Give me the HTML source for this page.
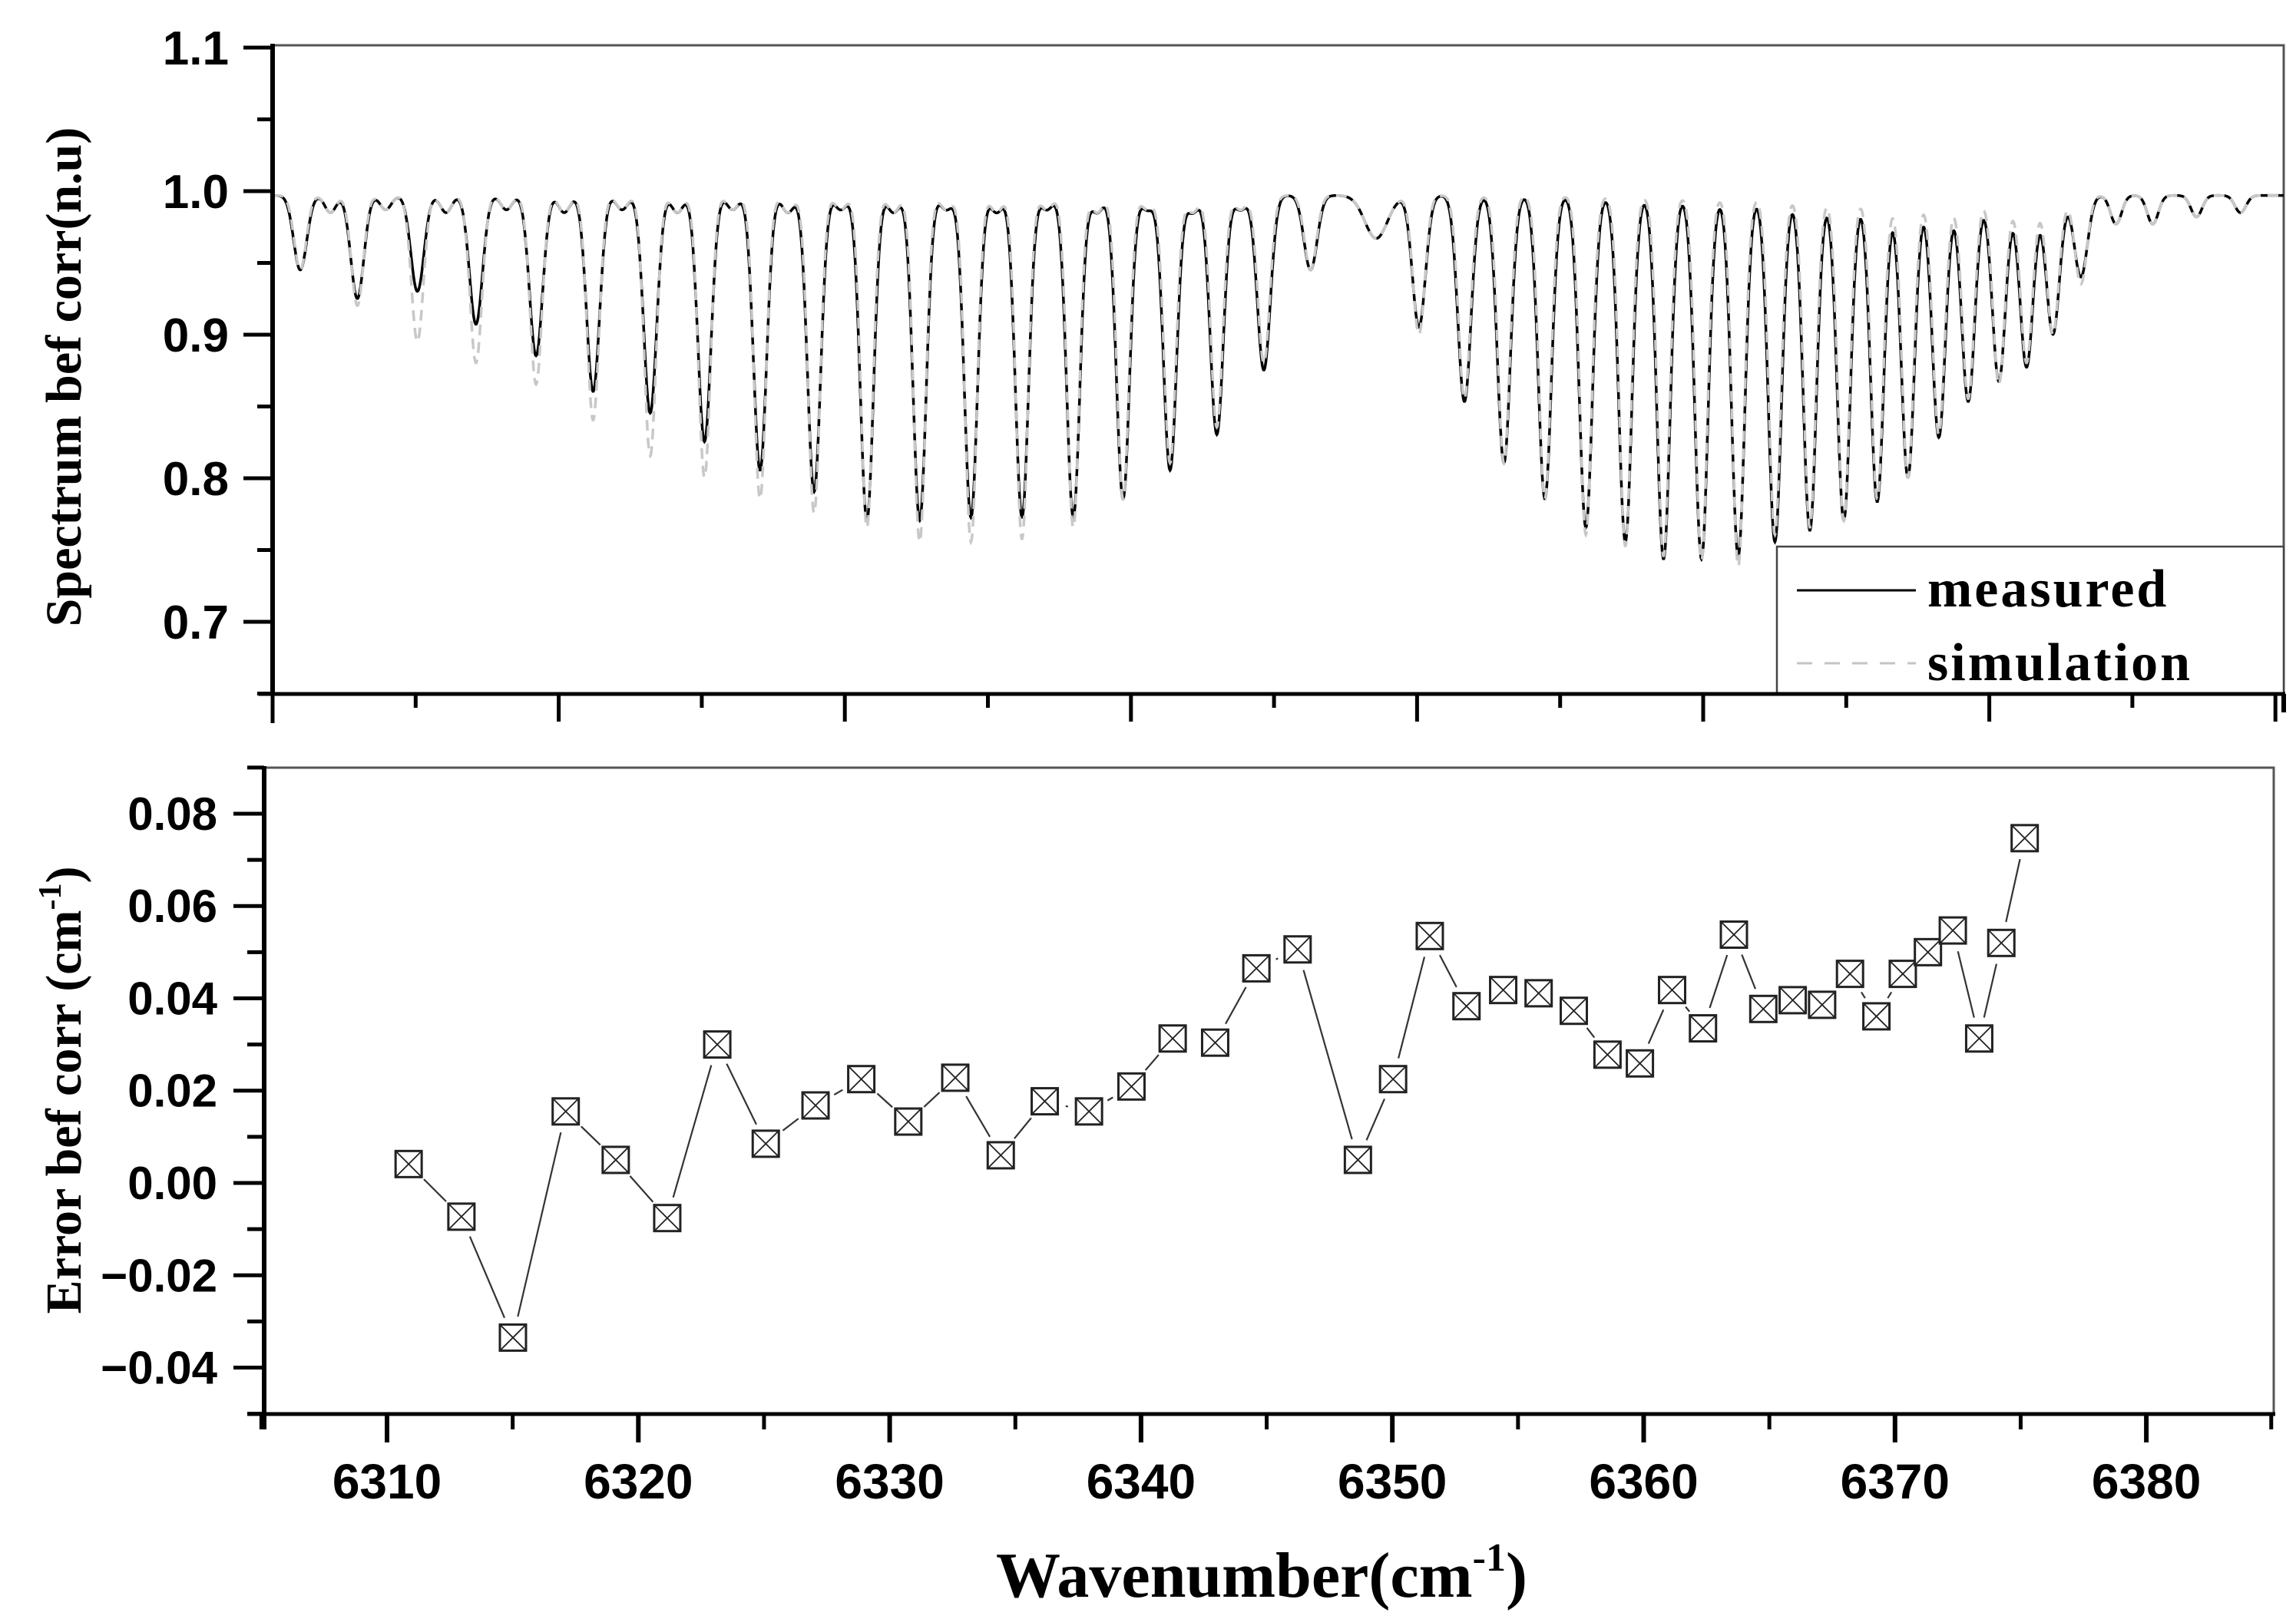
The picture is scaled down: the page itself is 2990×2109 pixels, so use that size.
<!DOCTYPE html>
<html><head><meta charset="utf-8">
<style>
html,body{margin:0;padding:0;background:#fff;}
svg{display:block;}
.tl{font-family:"Liberation Sans",Arial,sans-serif;font-weight:bold;fill:#000;}
.ti{font-family:"Liberation Serif","Times New Roman",serif;font-weight:bold;fill:#000;}
</style></head>
<body>
<svg id="chart" xmlns="http://www.w3.org/2000/svg" width="2990" height="2109" viewBox="0 0 2990 2109">
<rect x="0" y="0" width="2990" height="2109" fill="#fff"/>
<g id="topPanel"></g>
<g id="botPanel"></g>
<text class="ti" transform="translate(105,491) rotate(-90)" text-anchor="middle" font-size="66">Spectrum bef corr(n.u)</text>
<text class="ti" transform="translate(105,1420) rotate(-90)" text-anchor="middle" font-size="66">Error bef corr (cm<tspan dy="-26" font-size="42">-1</tspan><tspan dy="26">)</tspan></text>
<text class="ti" x="1643" y="2080" text-anchor="middle" font-size="84">Wavenumber(cm<tspan dy="-34" font-size="52">-1</tspan><tspan dy="34">)</tspan></text>
</svg>
<script>
// ---- spectrum line data ----
const lineCenters = [6306.10,6308.37,6310.76,6313.09,6315.48,6317.75,6320.02,6322.18,6324.39,6326.54,6328.64,6330.74,6332.78,6334.81,6336.85,6338.83,6340.70,6342.56,6344.43,6346.29,6350.60,6352.41,6353.98,6355.61,6357.24,6358.81,6360.33,6361.84,6363.30,6364.76,6366.15,6367.50,6368.83,6370.05,6371.28,6372.45,6373.67,6374.77,6375.82,6376.93];
const measuredMin = [0.945,0.925,0.93,0.907,0.885,0.86,0.845,0.825,0.805,0.79,0.77,0.77,0.772,0.772,0.772,0.785,0.805,0.83,0.875,0.945,0.905,0.853,0.81,0.785,0.765,0.755,0.743,0.743,0.745,0.755,0.763,0.77,0.783,0.80,0.828,0.853,0.867,0.877,0.90,0.94];
const simulatedMin = [0.945,0.92,0.895,0.88,0.865,0.84,0.815,0.80,0.785,0.775,0.765,0.755,0.755,0.757,0.765,0.785,0.81,0.835,0.88,0.945,0.90,0.855,0.81,0.785,0.76,0.752,0.745,0.742,0.738,0.76,0.765,0.77,0.785,0.80,0.83,0.855,0.865,0.88,0.90,0.935];
const weakCenters = [6307.3,6309.5,6311.9,6314.3,6316.6,6318.9,6321.1,6323.3,6325.5,6327.6,6329.7,6331.8,6333.8,6335.8,6337.8,6339.8,6341.6,6343.5,6348.9,6378.33,6379.79,6381.53,6383.28];
const weakDepth = [0.012,0.01,0.012,0.01,0.012,0.01,0.012,0.01,0.012,0.01,0.012,0.01,0.012,0.01,0.012,0.01,0.012,0.01,0.03,0.02,0.02,0.015,0.012];
const spectrumTicks = ["1.1","1.0","0.9","0.8","0.7"];
const spectrumTickVals = [1.1,1.0,0.9,0.8,0.7];
// ---- error data ----
const errWavenumbers = [6310.86,6312.96,6315.01,6317.11,6319.10,6321.15,6323.14,6325.07,6327.05,6328.87,6330.74,6332.61,6334.42,6336.17,6337.93,6339.62,6341.26,6342.95,6344.59,6346.23,6348.63,6350.03,6351.49,6352.95,6354.41,6355.82,6357.22,6358.56,6359.85,6361.13,6362.36,6363.59,6364.76,6365.93,6367.10,6368.21,6369.26,6370.31,6371.31,6372.30,6373.35,6374.23,6375.16];
const errValues = [0.0041,-0.0073,-0.0335,0.0155,0.005,-0.0076,0.030,0.0085,0.0168,0.0225,0.0133,0.0228,0.006,0.0177,0.0155,0.0209,0.0313,0.0304,0.0465,0.0506,0.005,0.0225,0.0535,0.0383,0.0418,0.0411,0.0373,0.0278,0.0259,0.0418,0.0335,0.0538,0.0377,0.0396,0.0386,0.0453,0.0361,0.0453,0.050,0.0547,0.0313,0.052,0.0747];
const errTickLabels = ["0.08","0.06","0.04","0.02","0.00","\u22120.02","\u22120.04"];
const errTickVals = [0.08,0.06,0.04,0.02,0.00,-0.02,-0.04];
const xTickLabels = ["6310","6320","6330","6340","6350","6360","6370","6380"];
const xTickVals = [6310,6320,6330,6340,6350,6360,6370,6380];

const NS="http://www.w3.org/2000/svg";
function mk(parent,tag,attrs){const e=document.createElementNS(NS,tag);for(const k in attrs)e.setAttribute(k,attrs[k]);parent.appendChild(e);return e;}

// top axes
const tx=v=>355+(v-6305)*(2974-355)/80;
const ty=v=>249+(1.0-v)*1870;
const topG=document.getElementById('topPanel');
let f=mk(topG,'path',{d:'M355,59 H2974 V904',fill:'none',stroke:'#555','stroke-width':3});


function profile(mins,sig){
  const pts=[];
  for(let v=6305;v<=6385.001;v+=0.02){
    let s=0.997;
    for(let i=0;i<lineCenters.length;i++){const d=(v-lineCenters[i])/sig;s*=1-(0.997-mins[i])*Math.exp(-0.5*d*d);}
    for(let i=0;i<weakCenters.length;i++){const w=weakCenters[i]===6348.9?0.45:0.22;const d=(v-weakCenters[i])/w;s*=1-weakDepth[i]*Math.exp(-0.5*d*d);}
    pts.push(tx(v).toFixed(1)+','+ty(s).toFixed(1));
  }
  return 'M'+pts.join('L');
}
const meas=mk(topG,'path',{d:profile(measuredMin,0.26),fill:'none',stroke:'#000','stroke-width':3.5});


const sim=mk(topG,'path',{d:profile(simulatedMin,0.24),fill:'none',stroke:'#c8c8c8','stroke-width':3.5,'stroke-dasharray':'14,9'});


// legend
const lg=mk(topG,'g',{});


mk(lg,'rect',{x:2314,y:712,width:660,height:192,fill:'#fff',stroke:'#444','stroke-width':2.5});
mk(lg,'line',{x1:2340,y1:769,x2:2495,y2:769,stroke:'#000','stroke-width':3});
mk(lg,'line',{x1:2340,y1:864,x2:2495,y2:864,stroke:'#c4c4c4','stroke-width':3,'stroke-dasharray':'20,16'});
let t1=mk(lg,'text',{x:2510,y:790,class:'ti','font-size':70,'letter-spacing':3});t1.textContent='measured';


let t2=mk(lg,'text',{x:2510,y:886,class:'ti','font-size':70,'letter-spacing':3});t2.textContent='simulation';


// axes
mk(topG,'line',{x1:355,y1:57,x2:355,y2:906,stroke:'#000','stroke-width':6});
mk(topG,'line',{x1:337,y1:904,x2:2976,y2:904,stroke:'#000','stroke-width':5});
for(let i=0;i<spectrumTickVals.length;i++){
  const y=ty(spectrumTickVals[i]);
  mk(topG,'line',{x1:317,y1:y,x2:355,y2:y,stroke:'#000','stroke-width':5});
  const t=mk(topG,'text',{x:298,y:y+22,class:'tl','font-size':62,'text-anchor':'end'});t.textContent=spectrumTicks[i];
  
  
  const ym=ty(spectrumTickVals[i]-0.05);mk(topG,'line',{x1:335,y1:ym,x2:355,y2:ym,stroke:'#000','stroke-width':5});
}
for(let i=0;i<=14;i++){
  const x=355+i*186.3;
  mk(topG,'line',{x1:x,y1:904,x2:x,y2:(i%2===0&&i>0)?940:(i===0?942:922),stroke:'#000','stroke-width':5});
}
mk(topG,'line',{x1:2974,y1:904,x2:2974,y2:928,stroke:'#000','stroke-width':6});

// bottom axes
const bx=v=>504+(v-6310)*32.73;
const by=v=>1541-v*6013;
const botG=document.getElementById('botPanel');
let bf=mk(botG,'path',{d:'M344,1000 H2961 V1842',fill:'none',stroke:'#555','stroke-width':3});


mk(botG,'line',{x1:344,y1:998,x2:344,y2:1844,stroke:'#000','stroke-width':6});
mk(botG,'line',{x1:322,y1:1842,x2:2963,y2:1842,stroke:'#000','stroke-width':5});
for(let i=0;i<errTickVals.length;i++){
  const y=by(errTickVals[i]);
  mk(botG,'line',{x1:304,y1:y,x2:344,y2:y,stroke:'#000','stroke-width':5});
  const t=mk(botG,'text',{x:283,y:y+21,class:'tl','font-size':60,'text-anchor':'end'});t.textContent=errTickLabels[i];
  
  
}
for(let k=0;k<8;k++){const y=by(-0.05+k*0.02);mk(botG,'line',{x1:322,y1:y,x2:344,y2:y,stroke:'#000','stroke-width':5});}
for(let i=0;i<xTickVals.length;i++){
  const x=bx(xTickVals[i]);
  mk(botG,'line',{x1:x,y1:1842,x2:x,y2:1879,stroke:'#000','stroke-width':6});
  const t=mk(botG,'text',{x:x,y:1952,class:'tl','font-size':64,'text-anchor':'middle'});t.textContent=xTickLabels[i];
  
  
  const xm=bx(xTickVals[i]-5);mk(botG,'line',{x1:xm,y1:1842,x2:xm,y2:1862,stroke:'#000','stroke-width':5});
}
{const xm=bx(6385);mk(botG,'line',{x1:xm-1,y1:1842,x2:xm-1,y2:1862,stroke:'#000','stroke-width':5});}
mk(botG,'line',{x1:344,y1:1842,x2:344,y2:1862,stroke:'#000','stroke-width':6});
for(let i=0;i<errValues.length-1;i++){
  const x1=bx(errWavenumbers[i]),y1=by(errValues[i]),x2=bx(errWavenumbers[i+1]),y2=by(errValues[i+1]);
  const dx=x2-x1,dy=y2-y1,L=Math.hypot(dx,dy);if(L<56)continue;
  const g=28/L;
  const s=mk(botG,'line',{x1:x1+dx*g,y1:y1+dy*g,x2:x2-dx*g,y2:y2-dy*g,stroke:'#333','stroke-width':2.2});
  
  
}
for(let i=0;i<errValues.length;i++){
  const x=bx(errWavenumbers[i]),y=by(errValues[i]),h=17;
  const g=mk(botG,'g',{});
  
  
  mk(g,'rect',{x:x-h,y:y-h,width:2*h,height:2*h,fill:'#fff',stroke:'#222','stroke-width':3});
  mk(g,'path',{d:`M${x-h},${y-h}L${x+h},${y+h}M${x+h},${y-h}L${x-h},${y+h}`,stroke:'#222','stroke-width':1.8});
}
</script>
</body></html>
